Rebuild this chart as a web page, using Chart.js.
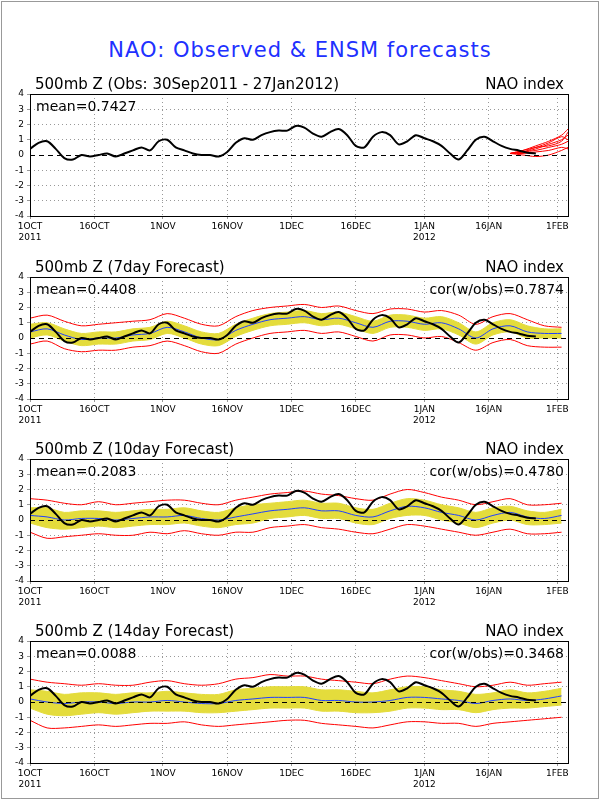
<!DOCTYPE html>
<html><head><meta charset="utf-8">
<script src="https://cdn.jsdelivr.net/npm/chart.js@4"></script>
<style>
body{margin:0;background:#fff;width:600px;height:800px;position:relative;overflow:hidden}
#frame{position:absolute;left:1px;top:1px;width:596px;height:796px;border:1px solid #999}
#title{position:absolute;top:38px;left:0;width:600px;text-align:center;color:#2030ff;font:21px "DejaVu Sans";letter-spacing:1px}
canvas{position:absolute;left:0}
</style></head><body>
<div id="frame"></div>
<div id="title">NAO: Observed &amp; ENSM forecasts</div>
<canvas id="c1"></canvas><canvas id="c2"></canvas><canvas id="c3"></canvas><canvas id="c4"></canvas>
<script>
// x positions are days since 1 Oct 2011
const tickDays = [0, 15, 31, 46, 61, 76, 92, 107, 123];
const tickLabels = [["1OCT", "2011"], "16OCT", "1NOV", "16NOV", "1DEC", "16DEC", ["1JAN", "2012"], "16JAN", "1FEB"];

const obsDays = [0,2,4,6,8,10,12,14,16,18,20,22,24,26,28,30,32,34,36,38,40,42,44,46,48,50,52,54,56,58,60,62,64,66,68,70,72,74,76,78,80,82,84,86,88,90,92,94,96,98,100,102,104,106,108,110,112,114,116,118];
const obs = [0.4,0.8,0.9,0.4,-0.2,-0.3,0.0,-0.1,0.0,0.1,-0.1,0.1,0.3,0.5,0.3,0.9,1.0,0.5,0.3,0.1,0.0,0.0,-0.1,0.2,0.8,1.1,1.0,1.3,1.5,1.6,1.6,1.9,1.8,1.4,1.2,1.5,1.7,1.3,0.6,0.5,1.2,1.5,1.3,0.7,0.9,1.3,1.1,0.9,0.6,0.1,-0.3,0.3,1.0,1.2,0.9,0.6,0.4,0.3,0.15,0.1];

// ensemble members for the top panel
const memDays = [112, 115, 118, 121, 124, 125.5];
const members = [
  [0.1,0.2,0.4,0.7,1.0,1.3],
  [0.1,0.3,0.6,0.9,1.3,1.7],
  [0.1,0.1,0.2,0.3,0.5,0.4],
  [0.1,0.3,0.5,0.8,1.2,1.0],
  [0.1,0.2,0.3,0.5,0.7,0.9],
  [0.1,0.0,-0.1,0.0,0.3,0.5],
  [0.1,0.2,0.5,0.6,0.9,1.5]
];

const fcDays = [0,4,8,12,16,20,24,28,32,36,40,44,48,52,56,60,64,68,72,76,80,84,88,92,96,100,104,108,112,116,120,124];

const mean7 = [0.4,0.6,0.2,-0.1,0.0,0.0,0.2,0.3,0.7,0.4,0.0,-0.1,0.5,0.9,1.2,1.3,1.4,1.2,1.3,1.0,0.7,1.1,1.1,0.9,1.0,0.6,0.0,0.6,0.8,0.4,0.3,0.3];
const hi7 = [0.9,1.0,0.6,0.3,0.4,0.4,0.6,0.7,1.1,0.8,0.4,0.3,0.9,1.3,1.6,1.7,1.8,1.6,1.7,1.4,1.1,1.5,1.5,1.3,1.4,1.0,0.4,1.0,1.2,0.8,0.6,0.6];
const lo7 = [0.0,0.2,-0.2,-0.5,-0.4,-0.4,-0.2,-0.1,0.3,0.0,-0.4,-0.5,0.1,0.5,0.8,0.9,1.0,0.8,0.9,0.6,0.3,0.7,0.7,0.5,0.6,0.2,-0.4,0.2,0.4,0.0,0.0,0.0];
const max7 = [1.3,1.5,1.1,0.8,0.9,1.0,1.1,1.2,1.6,1.3,0.9,0.8,1.4,1.8,2.0,2.1,2.2,2.0,2.1,1.8,1.6,1.9,1.9,1.7,1.8,1.5,0.9,1.4,1.6,1.2,0.8,0.7];
const min7 = [-0.4,-0.2,-0.7,-0.9,-0.8,-0.8,-0.6,-0.5,-0.2,-0.5,-0.9,-1.0,-0.4,0.0,0.3,0.4,0.5,0.3,0.4,0.1,-0.2,0.2,0.2,0.0,0.1,-0.3,-0.8,-0.3,-0.1,-0.5,-0.6,-0.6];

const mean10 = [0.3,0.2,0.0,0.1,0.1,0.0,0.1,0.2,0.2,0.3,0.1,0.0,0.2,0.4,0.6,0.7,0.8,0.6,0.6,0.3,0.2,0.6,0.9,0.8,0.5,0.3,0.0,0.3,0.5,0.2,0.1,0.3];
const hi10 = [0.8,0.8,0.5,0.6,0.6,0.5,0.6,0.7,0.7,0.8,0.6,0.5,0.8,1.0,1.1,1.2,1.3,1.1,1.1,0.8,0.7,1.1,1.4,1.3,1.0,0.8,0.5,0.8,0.9,0.6,0.5,0.7];
const lo10 = [-0.2,-0.5,-0.6,-0.5,-0.4,-0.5,-0.4,-0.3,-0.3,-0.2,-0.4,-0.5,-0.3,-0.2,0.1,0.2,0.3,0.1,0.1,-0.2,-0.3,0.1,0.3,0.3,0.0,-0.2,-0.5,-0.2,0.0,-0.3,-0.3,-0.2];
const max10 = [1.4,1.3,1.1,1.0,1.2,1.0,1.1,1.2,1.3,1.3,1.1,1.0,1.3,1.5,1.7,1.8,1.9,1.7,1.6,1.4,1.3,1.7,2.0,1.8,1.5,1.3,1.0,1.2,1.4,1.0,1.0,1.1];
const min10 = [-0.8,-1.2,-1.1,-1.0,-0.9,-1.0,-1.0,-0.8,-0.9,-0.7,-0.9,-1.0,-0.8,-0.8,-0.5,-0.4,-0.3,-0.5,-0.6,-0.8,-0.9,-0.6,-0.3,-0.4,-0.6,-0.8,-1.0,-0.8,-0.6,-0.9,-0.9,-0.8];

const mean14 = [0.2,0.0,-0.1,0.0,0.0,-0.1,0.0,0.0,0.1,0.0,-0.1,-0.1,0.1,0.2,0.3,0.3,0.3,0.1,0.1,0.0,0.0,0.1,0.3,0.3,0.2,0.1,-0.1,0.1,0.2,0.1,0.2,0.4];
const hi14 = [0.8,0.7,0.5,0.6,0.6,0.5,0.6,0.6,0.7,0.6,0.5,0.5,0.8,0.9,1.0,1.0,1.0,0.8,0.8,0.7,0.6,0.8,1.0,1.0,0.8,0.7,0.5,0.6,0.8,0.6,0.7,0.9];
const lo14 = [-0.4,-0.8,-0.9,-0.8,-0.7,-0.8,-0.7,-0.6,-0.6,-0.6,-0.7,-0.7,-0.6,-0.5,-0.4,-0.4,-0.4,-0.6,-0.6,-0.7,-0.7,-0.6,-0.4,-0.4,-0.5,-0.5,-0.7,-0.5,-0.4,-0.4,-0.3,-0.2];
const max14 = [1.5,1.3,1.2,1.1,1.2,1.1,1.1,1.3,1.4,1.2,1.1,1.2,1.5,1.6,1.8,1.7,1.7,1.5,1.4,1.3,1.2,1.5,1.7,1.6,1.4,1.2,1.0,1.1,1.3,1.1,1.2,1.3];
const min14 = [-1.2,-1.7,-1.7,-1.6,-1.5,-1.6,-1.5,-1.4,-1.4,-1.3,-1.5,-1.6,-1.5,-1.4,-1.3,-1.2,-1.2,-1.4,-1.5,-1.6,-1.7,-1.5,-1.3,-1.3,-1.4,-1.4,-1.6,-1.4,-1.3,-1.2,-1.1,-1.0];

const pts = (xs, ys) => xs.map((x, i) => ({ x, y: ys[i] }));
const YEL = "#e4dc3c";

function line(data, color, width, extra) {
  return Object.assign({ data, borderColor: color, borderWidth: width, pointRadius: 0, tension: 0.3, fill: false }, extra || {});
}

function forecastSets(mean, hi, lo, mx, mn) {
  return [
    line(pts(obsDays, obs), "#000", 2),
    line(pts(fcDays, mean), "#2040ff", 1),
    line(pts(fcDays, hi), YEL, 1, { fill: "+1", backgroundColor: YEL }),
    line(pts(fcDays, lo), YEL, 1),
    line(pts(fcDays, mx), "#ff0000", 1),
    line(pts(fcDays, mn), "#ff0000", 1)
  ];
}

const textPlugin = {
  id: "panelText",
  afterDraw(chart) {
    const { ctx, chartArea: a, scales } = chart;
    const o = chart.options.plugins.panelText;
    ctx.save();
    // dashed zero line over the band
    const y0 = Math.round(scales.y.getPixelForValue(0)) + 0.5;
    ctx.strokeStyle = "#000"; ctx.lineWidth = 1; ctx.setLineDash([5, 4]);
    ctx.beginPath(); ctx.moveTo(a.left, y0); ctx.lineTo(a.right, y0); ctx.stroke();
    ctx.setLineDash([]);
    ctx.strokeRect(a.left + 0.5, a.top + 0.5, a.right - a.left, a.bottom - a.top);
    ctx.fillStyle = "#000";
    ctx.font = "15px 'DejaVu Sans'";
    ctx.textAlign = "left"; ctx.fillText(o.title, a.left + 5, a.top - 5);
    ctx.textAlign = "right"; ctx.fillText("NAO index", a.right - 4, a.top - 5);
    ctx.font = "14px 'DejaVu Sans'";
    ctx.textAlign = "left"; ctx.fillText(o.mean, a.left + 6, a.top + 17);
    if (o.cor) { ctx.textAlign = "right"; ctx.fillText(o.cor, a.right - 4, a.top + 17); }
    ctx.restore();
  }
};

function makeChart(id, top, datasets, txt) {
  const cv = document.getElementById(id);
  cv.style.top = top + "px";
  cv.width = 600; cv.height = 182;
  new Chart(cv, {
    type: "line",
    data: { datasets },
    plugins: [textPlugin],
    options: {
      responsive: false, animation: false,
      layout: { padding: { left: 8, right: 32, top: 34, bottom: 2 } },
      plugins: { legend: { display: false }, tooltip: { enabled: false }, panelText: txt },
      scales: {
        x: {
          type: "linear", min: 0, max: 125.5,
          afterBuildTicks: s => { s.ticks = tickDays.map(v => ({ value: v })); },
          afterFit: s => { s.height = 24; },
          ticks: { autoSkip: false, maxRotation: 0, padding: 2, color: "#000", font: { size: 9, family: "DejaVu Sans" },
            callback: v => tickLabels[tickDays.indexOf(v)] },
          grid: { color: "#999", tickLength: 3 },
          border: { display: false, dash: [1, 3] }
        },
        y: {
          min: -4, max: 4,
          afterFit: s => { s.width = 22; },
          ticks: { stepSize: 1, color: "#000", padding: 3, font: { size: 9, family: "DejaVu Sans" } },
          grid: { color: c => c.tick.value === 0 ? "rgba(0,0,0,0)" : "#999", tickLength: 3 },
          border: { display: false, dash: [1, 3] }
        }
      }
    }
  });
}

makeChart("c1", 60,
  [line(pts(obsDays, obs), "#000", 2)].concat(members.map(m => line(pts(memDays, m), "#ff0000", 1))),
  { title: "500mb Z (Obs: 30Sep2011 - 27Jan2012)", mean: "mean=0.7427" });
makeChart("c2", 243, forecastSets(mean7, hi7, lo7, max7, min7),
  { title: "500mb Z (7day Forecast)", mean: "mean=0.4408", cor: "cor(w/obs)=0.7874" });
makeChart("c3", 425, forecastSets(mean10, hi10, lo10, max10, min10),
  { title: "500mb Z (10day Forecast)", mean: "mean=0.2083", cor: "cor(w/obs)=0.4780" });
makeChart("c4", 607, forecastSets(mean14, hi14, lo14, max14, min14),
  { title: "500mb Z (14day Forecast)", mean: "mean=0.0088", cor: "cor(w/obs)=0.3468" });
</script>
</body></html>
